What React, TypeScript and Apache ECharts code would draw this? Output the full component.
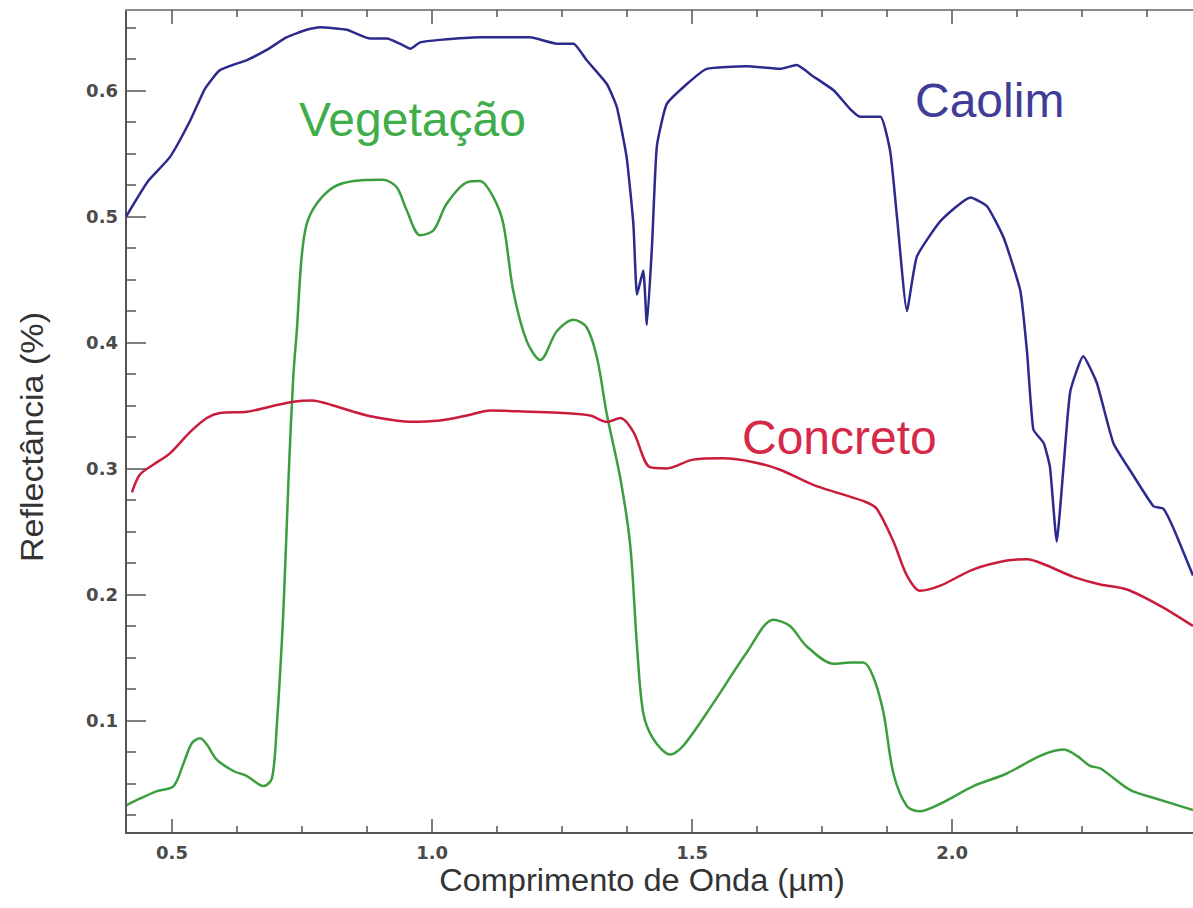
import React, { useEffect, useRef } from "react";
import * as echarts from "echarts";

// ---- Data (wavelength in µm, reflectance) ----
const caolimWavelength = [
  0.412, 0.454, 0.496, 0.535, 0.563, 0.592, 0.644, 0.682, 0.72, 0.759, 0.785, 0.836, 0.881, 0.913, 0.938, 0.958,
  0.977, 1.015, 1.092, 1.188, 1.24, 1.272, 1.297, 1.336, 1.355, 1.374, 1.387, 1.394, 1.406, 1.413, 1.423, 1.432,
  1.451, 1.49, 1.528, 1.605, 1.669, 1.701, 1.733, 1.772, 1.804, 1.823, 1.862, 1.881, 1.894, 1.913, 1.932, 1.977,
  2.035, 2.067, 2.099, 2.131, 2.144, 2.156, 2.176, 2.188, 2.201, 2.214, 2.227, 2.252, 2.278, 2.31, 2.349, 2.387,
  2.406, 2.426, 2.463,
];
const caolimReflectance = [
  0.5, 0.528, 0.547, 0.576, 0.601, 0.616, 0.624, 0.632, 0.642, 0.648, 0.65, 0.648, 0.641, 0.641, 0.637, 0.633,
  0.638, 0.64, 0.642, 0.642, 0.637, 0.637, 0.624, 0.605, 0.587, 0.547, 0.494, 0.438, 0.457, 0.414, 0.478, 0.555,
  0.589, 0.605, 0.617, 0.619, 0.617, 0.62, 0.611, 0.6, 0.585, 0.579, 0.579, 0.551, 0.499, 0.425, 0.468, 0.496,
  0.515, 0.508, 0.483, 0.441, 0.392, 0.331, 0.32, 0.301, 0.242, 0.301, 0.361, 0.389, 0.368, 0.32, 0.294, 0.27,
  0.268, 0.252, 0.215,
];

const concretoWavelength = [
  0.423, 0.438, 0.464, 0.496, 0.535, 0.567, 0.592, 0.644, 0.688, 0.733, 0.769, 0.81, 0.849, 0.887, 0.958, 1.015,
  1.067, 1.112, 1.188, 1.252, 1.304, 1.336, 1.362, 1.387, 1.419, 1.451, 1.502, 1.56, 1.618, 1.669, 1.733, 1.785,
  1.836, 1.855, 1.887, 1.913, 1.938, 1.977, 2.041, 2.105, 2.144, 2.182, 2.233, 2.285, 2.336, 2.4, 2.463,
];
const concretoReflectance = [
  0.281, 0.295, 0.303, 0.312, 0.329, 0.34, 0.344, 0.345, 0.349, 0.353, 0.354, 0.35, 0.345, 0.341, 0.337, 0.338,
  0.342, 0.346, 0.345, 0.344, 0.342, 0.337, 0.34, 0.329, 0.301, 0.3, 0.307, 0.308, 0.305, 0.299, 0.287, 0.28,
  0.273, 0.268, 0.242, 0.215, 0.203, 0.207, 0.22, 0.227, 0.228, 0.223, 0.214, 0.208, 0.204, 0.191, 0.175,
];

const vegetacaoWavelength = [
  0.413, 0.438, 0.471, 0.503, 0.522, 0.538, 0.554, 0.567, 0.586, 0.618, 0.644, 0.676, 0.692, 0.701, 0.714, 0.724,
  0.733, 0.74, 0.749, 0.759, 0.778, 0.81, 0.849, 0.906, 0.932, 0.951, 0.977, 1.003, 1.028, 1.067, 1.092, 1.118,
  1.137, 1.156, 1.182, 1.208, 1.24, 1.272, 1.297, 1.317, 1.336, 1.362, 1.381, 1.394, 1.406, 1.426, 1.458, 1.483,
  1.541, 1.605, 1.656, 1.688, 1.72, 1.772, 1.804, 1.829, 1.848, 1.868, 1.887, 1.913, 1.938, 1.977, 2.041, 2.105,
  2.169, 2.214, 2.24, 2.265, 2.285, 2.342, 2.393, 2.463,
];
const vegetacaoReflectance = [
  0.033, 0.038, 0.044, 0.048, 0.066, 0.082, 0.086, 0.081, 0.069, 0.06, 0.056, 0.048, 0.054, 0.093, 0.186, 0.292,
  0.372, 0.41, 0.467, 0.494, 0.51, 0.523, 0.528, 0.529, 0.523, 0.505, 0.485, 0.489, 0.51, 0.527, 0.528, 0.515,
  0.494, 0.441, 0.401, 0.386, 0.409, 0.418, 0.412, 0.388, 0.343, 0.292, 0.239, 0.159, 0.106, 0.085, 0.073, 0.08,
  0.114, 0.154, 0.18, 0.175, 0.159, 0.145, 0.146, 0.146, 0.135, 0.106, 0.058, 0.032, 0.028, 0.034, 0.048, 0.058,
  0.072, 0.077, 0.072, 0.064, 0.062, 0.045, 0.038, 0.029,
];

// ---- Axis ticks ----
const xMin = 0.4115;
const xMax = 2.463;
const yMin = 0.0108;
const yMax = 0.6637;
const xMajorTicks = [0.5, 1.0, 1.5, 2.0];
const xMinorTicks = [0.625, 0.75, 0.875, 1.125, 1.25, 1.375, 1.625, 1.75, 1.875, 2.125, 2.25, 2.375];
const yMajorTicks = [0.1, 0.2, 0.3, 0.4, 0.5, 0.6];
const yMinorTicks = [
  0.025, 0.05, 0.075, 0.125, 0.15, 0.175, 0.225, 0.25, 0.275, 0.325, 0.35, 0.375, 0.425, 0.45, 0.475, 0.525,
  0.55, 0.575, 0.625, 0.65,
];

const seriesNames = ["Caolim", "Vegetação", "Concreto"];
const lineColors = ["#2c2a8c", "#3c9e3e", "#c91c3c"];
const labelColors = ["#3f3d98", "#3fae4a", "#d6294a"];

const zip = (xs: number[], ys: number[]) => xs.map((x, i) => [x, ys[i]]);

export default function App() {
  const ref = useRef<HTMLDivElement>(null);

  useEffect(() => {
    if (!ref.current) return;
    const chart = echarts.init(ref.current, undefined, { renderer: "svg" });
    const font = "Liberation Sans, Arial, Helvetica, sans-serif";
    const tickFont = "DejaVu Sans, Liberation Sans, sans-serif";
    const axisColor = "#555";

    const xAxisBase = (position: "bottom" | "top", ticks: number[], len: number, showLine: boolean, showLabel: boolean) => ({
      type: "value" as const,
      position,
      min: xMin,
      max: xMax,
      splitLine: { show: false },
      axisLine: { show: showLine, onZero: false, lineStyle: { color: position === "top" ? "#8a8a8a" : axisColor, width: 2 } },
      axisTick: { show: true, inside: true, length: len, customValues: ticks, lineStyle: { color: "#555", width: 1.5 } },
      axisLabel: {
        show: showLabel,
        customValues: xMajorTicks,
        formatter: (v: number) => v.toFixed(1),
        fontFamily: tickFont,
        fontWeight: "bold",
        fontSize: 18,
        color: "#4a4a4a",
        margin: 10,
      },
    });

    const yAxisBase = (ticks: number[], len: number, showLine: boolean, showLabel: boolean) => ({
      type: "value" as const,
      position: "left" as const,
      min: yMin,
      max: yMax,
      splitLine: { show: false },
      axisLine: { show: showLine, onZero: false, lineStyle: { color: axisColor, width: 2 } },
      axisTick: { show: true, inside: true, length: len, customValues: ticks, lineStyle: { color: "#555", width: 1.5 } },
      axisLabel: {
        show: showLabel,
        customValues: yMajorTicks,
        formatter: (v: number) => v.toFixed(1),
        fontFamily: tickFont,
        fontWeight: "bold",
        fontSize: 18,
        color: "#4a4a4a",
        margin: 8,
      },
    });

    const datasets = [
      zip(caolimWavelength, caolimReflectance),
      zip(vegetacaoWavelength, vegetacaoReflectance),
      zip(concretoWavelength, concretoReflectance),
    ];

    chart.setOption({
      animation: false,
      backgroundColor: "#ffffff",
      grid: { left: 126, top: 10, width: 1067, height: 823, containLabel: false },
      xAxis: [
        xAxisBase("bottom", xMajorTicks, 14, true, true),
        xAxisBase("bottom", xMinorTicks, 7, false, false),
        xAxisBase("top", xMajorTicks, 14, true, false),
        xAxisBase("top", xMinorTicks, 7, false, false),
      ],
      yAxis: [yAxisBase(yMajorTicks, 20, true, true), yAxisBase(yMinorTicks, 10, false, false)],
      series: datasets.map((d, i) => ({
        name: seriesNames[i],
        type: "line",
        xAxisIndex: 0,
        yAxisIndex: 0,
        data: d,
        showSymbol: false,
        smooth: i === 0 ? 0.15 : 0.3,
        lineStyle: { color: lineColors[i], width: 2.5 },
        clip: true,
      })),
      graphic: [
        {
          type: "text",
          x: 299,
          y: 119,
          style: { text: "Vegetação", font: `48px ${font}`, fill: labelColors[1], textAlign: "left", textVerticalAlign: "middle" },
        },
        {
          type: "text",
          x: 915,
          y: 100,
          style: { text: "Caolim", font: `48px ${font}`, fill: labelColors[0], textAlign: "left", textVerticalAlign: "middle" },
        },
        {
          type: "text",
          x: 742,
          y: 437,
          style: { text: "Concreto", font: `48px ${font}`, fill: labelColors[2], textAlign: "left", textVerticalAlign: "middle" },
        },
        {
          type: "text",
          x: 642,
          y: 880,
          scaleX: 1.05,
          style: { text: "Comprimento de Onda (µm)", font: `31px ${font}`, fill: "#333", textAlign: "center", textVerticalAlign: "middle" },
        },
        {
          type: "text",
          x: 33,
          y: 437,
          rotation: Math.PI / 2,
          scaleX: 1.1,
          style: { text: "Reflectância (%)", font: `31px ${font}`, fill: "#333", textAlign: "center", textVerticalAlign: "middle" },
        },
      ],
    });

    return () => chart.dispose();
  }, []);

  return <div ref={ref} style={{ position: "absolute", left: 0, top: 0, width: 1193, height: 908 }} />;
}
